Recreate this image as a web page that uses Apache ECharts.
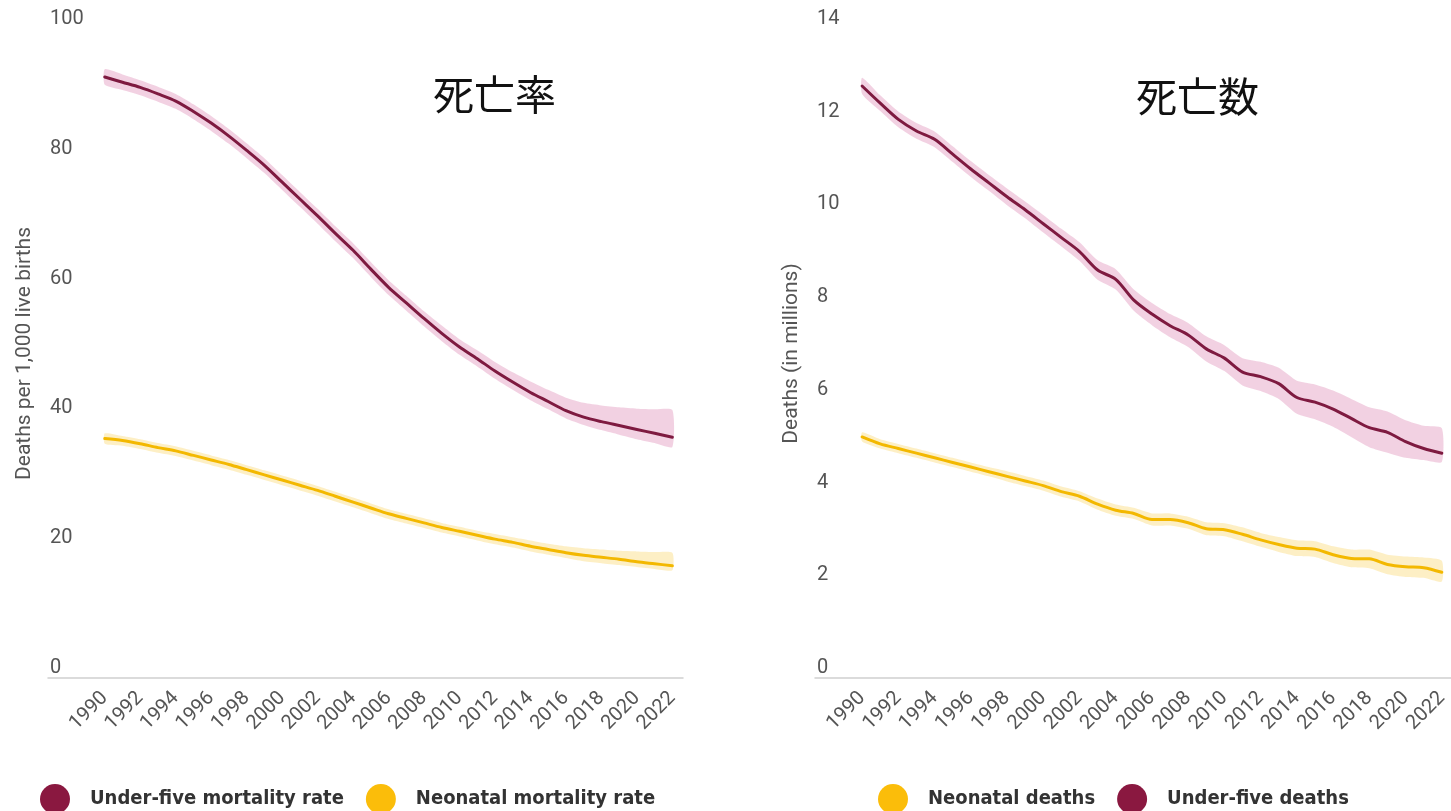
<!DOCTYPE html>
<html>
<head>
<meta charset="utf-8">
<script type="text/javascript" src="https://cdn.jsdelivr.net/npm/echarts@6/dist/echarts.min.js"></script>
<style type="text/css">
    * { margin: 0; padding: 0; }
    #container { width: 1451px; height: 811px; background: #fff; }
</style>
</head>
<body>
<div id="container"></div>
<script type="text/javascript">
var years = [];
for (var y = 1990; y <= 2022; y++) { years.push(y); }
var yearLabels = [1990,1992,1994,1996,1998,2000,2002,2004,2006,2008,2010,2012,2014,2016,2018,2020,2022];

// 死亡率 (per 1,000 live births)
var u5Rate = [92.6,91.8,91.0,90.0,88.9,87.3,85.5,83.5,81.3,79.0,76.4,73.8,71.2,68.5,65.9,63.0,60.2,57.8,55.4,53.1,51.0,49.2,47.3,45.6,44.0,42.6,41.2,40.2,39.5,38.9,38.3,37.7,37.1];
var u5RateUp = [93.8,93.0,92.1,91.1,90.0,88.4,86.6,84.6,82.4,80.1,77.5,74.9,72.3,69.6,67.0,64.1,61.3,58.9,56.5,54.3,52.2,50.5,48.7,47.1,45.7,44.4,43.2,42.4,42.0,41.7,41.5,41.4,41.3];
var u5RateLo = [91.4,90.6,89.8,88.8,87.7,86.1,84.3,82.3,80.1,77.8,75.2,72.6,70.0,67.3,64.7,61.8,59.0,56.6,54.2,51.9,49.8,48.0,46.1,44.4,42.8,41.4,40.0,39.0,38.2,37.5,36.8,36.2,35.6];
var neoRate = [36.9,36.6,36.1,35.5,35.0,34.3,33.6,32.9,32.1,31.3,30.5,29.7,28.9,28.0,27.1,26.2,25.3,24.6,23.9,23.2,22.6,22.0,21.4,20.9,20.3,19.8,19.3,18.9,18.6,18.3,17.9,17.6,17.3];
var neoRateUp = [37.7,37.3,36.8,36.2,35.7,35.0,34.3,33.6,32.8,32.0,31.2,30.4,29.6,28.7,27.8,26.9,26.0,25.3,24.6,23.9,23.3,22.7,22.2,21.7,21.2,20.7,20.3,20.0,19.8,19.6,19.5,19.4,19.3];
var neoRateLo = [36.1,35.8,35.3,34.7,34.2,33.5,32.8,32.1,31.3,30.5,29.7,28.9,28.1,27.2,26.3,25.4,24.5,23.8,23.1,22.4,21.8,21.2,20.6,20.1,19.5,19.0,18.5,18.0,17.7,17.4,17.1,16.8,16.6];

// 死亡数 (millions)
var u5Deaths = [12.77,12.40,12.05,11.80,11.62,11.30,10.98,10.68,10.38,10.10,9.80,9.50,9.20,8.80,8.60,8.15,7.85,7.60,7.40,7.10,6.90,6.60,6.50,6.35,6.05,5.95,5.80,5.60,5.40,5.30,5.10,4.95,4.85];
var u5DeathsUp = [12.95,12.57,12.22,11.97,11.79,11.47,11.15,10.85,10.56,10.28,9.99,9.69,9.40,9.01,8.82,8.38,8.09,7.85,7.66,7.37,7.18,6.90,6.82,6.69,6.41,6.33,6.20,6.02,5.84,5.75,5.56,5.44,5.39];
var u5DeathsLo = [12.60,12.23,11.88,11.63,11.45,11.13,10.81,10.51,10.20,9.92,9.61,9.31,9.00,8.59,8.38,7.92,7.61,7.35,7.14,6.83,6.62,6.31,6.19,6.02,5.70,5.58,5.42,5.20,4.98,4.86,4.75,4.70,4.66];
var neoDeaths = [5.20,5.05,4.95,4.85,4.75,4.65,4.55,4.45,4.35,4.25,4.15,4.02,3.92,3.75,3.62,3.55,3.42,3.42,3.35,3.22,3.20,3.10,2.98,2.88,2.80,2.78,2.66,2.58,2.57,2.45,2.40,2.38,2.28];
var neoDeathsUp = [5.30,5.15,5.05,4.95,4.85,4.75,4.65,4.55,4.46,4.36,4.26,4.13,4.03,3.87,3.74,3.67,3.55,3.55,3.48,3.36,3.34,3.25,3.13,3.04,2.97,2.95,2.84,2.77,2.77,2.66,2.62,2.60,2.53];
var neoDeathsLo = [5.10,4.95,4.85,4.75,4.65,4.55,4.45,4.35,4.24,4.14,4.04,3.91,3.81,3.63,3.50,3.43,3.29,3.29,3.22,3.08,3.06,2.95,2.83,2.72,2.63,2.61,2.48,2.39,2.37,2.24,2.18,2.16,2.08];

var maroon = '#7e1a40';
var maroonDot = '#8a1840';
var yellow = '#f3b800';
var yellowDot = '#fbbd0a';
var pinkBand = 'rgba(222,135,180,0.38)';
var yellowBand = 'rgba(250,214,110,0.4)';
var textGrey = '#555';

function pairs(arr) {
    var out = [];
    for (var i = 0; i < years.length; i++) { out.push([years[i], arr[i]]); }
    return out;
}

// 误差带: 一个多边形, 上沿正向 + 下沿反向
function band(idx, up, lo, color) {
    var data = [];
    for (var i = 0; i < years.length; i++) { data.push([years[i], lo[i], up[i]]); }
    return {
        type: 'custom', xAxisIndex: idx, yAxisIndex: idx, silent: true, z: 1,
        data: data,
        encode: { x: 0, y: [1, 2] },
        renderItem: function (params, api) {
            if (params.dataIndex !== 0) { return null; }
            var pts = [];
            for (var i = 0; i < data.length; i++) { pts.push(api.coord([data[i][0], data[i][2]])); }
            for (var j = data.length - 1; j >= 0; j--) { pts.push(api.coord([data[j][0], data[j][1]])); }
            return { type: 'polygon', shape: { points: pts, smooth: 0.2 }, style: { fill: color } };
        }
    };
}
function mainLine(name, idx, arr, color) {
    return {
        type: 'line', name: name, xAxisIndex: idx, yAxisIndex: idx,
        data: pairs(arr), symbol: 'none', smooth: 0.3, color: color,
        lineStyle: { width: 3, color: color, cap: 'round', join: 'round' }, z: 3
    };
}

function xAxisCfg(idx, min, max) {
    return {
        type: 'value', gridIndex: idx, min: min, max: max,
        splitLine: { show: false },
        axisTick: { show: false },
        axisLine: { show: true, lineStyle: { color: '#cfcfcf', width: 1.5 } },
        axisLabel: {
            customValues: yearLabels, rotate: 45, margin: 17,
            color: textGrey, fontSize: 20, fontFamily: 'Roboto',
            formatter: function (v) { return String(v); }
        }
    };
}
function yAxisCfg(idx, max, interval, name) {
    return {
        type: 'value', gridIndex: idx, min: 0, max: max, interval: interval,
        name: name, nameLocation: 'middle', nameGap: 13,
        nameTextStyle: { color: textGrey, fontSize: 21, fontFamily: 'Roboto' },
        splitLine: { show: false },
        axisLine: { show: false },
        axisTick: { show: false },
        axisLabel: {
            inside: true, align: 'left', verticalAlign: 'bottom', margin: 2,
            color: textGrey, fontSize: 20, fontFamily: 'Roboto'
        }
    };
}

var legendText = {
    color: '#333', fontSize: 20, fontWeight: 'bold',
    fontFamily: '"Liberation Sans Narrow", "DejaVu Sans Condensed", sans-serif',
    padding: [0, 0, 0, 15]
};

var chart = echarts.init(document.getElementById('container'));
var option = {
    animation: false,
    backgroundColor: '#fff',
    title: [
        { text: '死亡率', left: 428, top: 69, textStyle: { fontSize: 41, fontWeight: 'normal', color: '#111', fontFamily: '"Noto Sans CJK JP"' } },
        { text: '死亡数', left: 1131, top: 71, textStyle: { fontSize: 41, fontWeight: 'normal', color: '#111', fontFamily: '"Noto Sans CJK JP"' } }
    ],
    legend: [{
        data: [{ name: 'Under-five mortality rate', itemStyle: { color: maroonDot } },
               { name: 'Neonatal mortality rate', itemStyle: { color: yellowDot } }],
        left: 35, top: 779, icon: 'circle', itemWidth: 30, itemHeight: 30, itemGap: 22,
        textStyle: legendText, selectedMode: false
    }, {
        data: [{ name: 'Neonatal deaths', itemStyle: { color: yellowDot } },
               { name: 'Under-five deaths', itemStyle: { color: maroonDot } }],
        left: 873, top: 779, icon: 'circle', itemWidth: 30, itemHeight: 30, itemGap: 22,
        textStyle: legendText, selectedMode: false
    }],
    grid: [
        { left: 48, right: 768, top: 29, bottom: 133 },
        { left: 815, right: 0, top: 29, bottom: 133 }
    ],
    xAxis: [xAxisCfg(0, 1986.8, 2022.6), xAxisCfg(1, 1987.4, 2022.5)],
    yAxis: [
        yAxisCfg(0, 100, 20, 'Deaths per 1,000 live births'),
        yAxisCfg(1, 14, 2, 'Deaths (in millions)')
    ],
    series: [
        band(0, u5RateUp, u5RateLo, pinkBand),
        band(0, neoRateUp, neoRateLo, yellowBand),
        band(1, u5DeathsUp, u5DeathsLo, pinkBand),
        band(1, neoDeathsUp, neoDeathsLo, yellowBand),
        mainLine('Under-five mortality rate', 0, u5Rate, maroon),
        mainLine('Neonatal mortality rate', 0, neoRate, yellow),
        mainLine('Under-five deaths', 1, u5Deaths, maroon),
        mainLine('Neonatal deaths', 1, neoDeaths, yellow)
    ]
};
chart.setOption(option);
</script>
</body>
</html>
